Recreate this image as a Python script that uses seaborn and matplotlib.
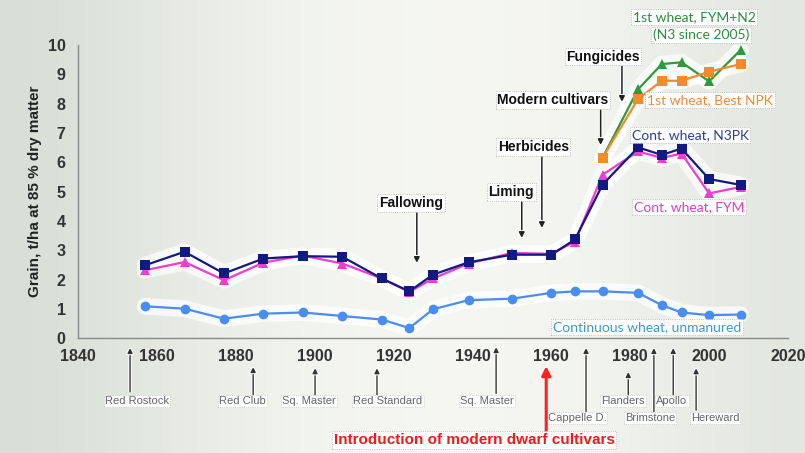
import numpy as np
import pandas as pd
import matplotlib
matplotlib.use("Agg")
import matplotlib.pyplot as plt
import matplotlib.patheffects as pe
from matplotlib.colors import LinearSegmentedColormap
import seaborn as sns

# ---- data: Broadbalk grain yields (t/ha at 85% dry matter), period means ----
years = [1857, 1867, 1877, 1887, 1897, 1907, 1917, 1924, 1930, 1939,
         1950, 1960, 1966, 1973, 1982, 1988, 1993, 2000, 2008]
cont_n3pk = [2.49, 2.95, 2.21, 2.72, 2.80, 2.78, 2.04, 1.60, 2.17, 2.59,
             2.85, 2.85, 3.37, 5.24, 6.51, 6.25, 6.47, 5.43, 5.23]
cont_fym = [2.32, 2.60, 1.98, 2.58, 2.82, 2.55, 2.04, 1.58, 2.04, 2.55,
            2.91, 2.88, 3.30, 5.58, 6.37, 6.15, 6.30, 4.94, 5.16]
cont_unmanured = [1.09, 1.01, 0.67, 0.84, 0.88, 0.76, 0.64, 0.35, 0.99, 1.30,
                  1.35, 1.55, 1.60, 1.60, 1.55, 1.13, 0.88, 0.79, 0.81]

years_first = [1973, 1982, 1988, 1993, 2000, 2008]
first_best_npk = [6.16, 8.16, 8.78, 8.78, 9.09, 9.35]
first_fym_n2 = [6.16, 8.49, 9.35, 9.41, 8.76, 9.83]

# management changes (label, label x, label y, arrow x, arrow top, arrow tip)
events = [
    ("Fallowing", 1924.4, 4.61, 1925.9, 4.30, 2.57),
    ("Liming", 1949.8, 4.99, 1952.5, 4.68, 3.42),
    ("Herbicides", 1955.4, 6.52, 1957.6, 6.20, 3.76),
    ("Modern cultivars", 1960.4, 8.12, 1972.5, 7.80, 6.59),
    ("Fungicides", 1973.1, 9.60, 1977.9, 9.28, 8.06),
]

# cultivars grown (label, label x, label y, arrow x, arrow tail, arrow tip)
cultivars = [
    ("Red Rostock", 1855.0, -2.14, 1853.2, -1.83, -0.33),
    ("Red Club", 1881.6, -2.14, 1884.4, -1.93, -0.98),
    ("Sq. Master", 1898.6, -2.14, 1900.1, -1.93, -1.02),
    ("Red Standard", 1918.6, -2.14, 1915.8, -1.93, -1.02),
    ("Sq. Master", 1943.7, -2.14, 1946.0, -1.88, -0.30),
    ("Cappelle D.", 1966.5, -2.72, 1968.8, -2.50, -0.33),
    ("Flanders", 1978.2, -2.14, 1979.5, -1.93, -1.15),
    ("Brimstone", 1985.0, -2.72, 1986.0, -2.50, -0.33),
    ("Apollo", 1990.6, -2.14, 1990.9, -1.93, -0.33),
    ("Hereward", 2001.5, -2.72, 1996.7, -2.45, -1.02),
]

NARROW = ["Liberation Sans Narrow", "Liberation Sans", "DejaVu Sans"]
SERIES_FONT = ["Lato", "DejaVu Sans"]

sns.set_theme(style="white")
plt.rcParams["font.family"] = NARROW

fig = plt.figure(figsize=(8.05, 4.53), dpi=100)

# soft pale backdrop
bg = fig.add_axes([0, 0, 1, 1], zorder=-10)
bg.axis("off")
ramp = np.linspace(0, 1, 400)
shade = np.clip(1.0 - 0.9 * np.exp(-((ramp - 0.0) / 0.28) ** 2)
                - 0.6 * np.exp(-((ramp - 1.0) / 0.22) ** 2), 0, 1)
grad = np.tile(shade, (50, 1))
cmap = LinearSegmentedColormap.from_list("bgc", ["#d6ddd3", "#f6f7f3"])
bg.imshow(grad, aspect="auto", cmap=cmap, vmin=0, vmax=1, extent=[0, 1, 0, 1])
bg.set_xlim(0, 1)
bg.set_ylim(0, 1)

ax = fig.add_axes([78 / 805, 1 - 338.3 / 453, (788 - 78) / 805, (338.3 - 45) / 453])
ax.set_facecolor("none")

df_main = pd.DataFrame({"year": years, "n3pk": cont_n3pk, "fym": cont_fym,
                        "unman": cont_unmanured})
df_first = pd.DataFrame({"year": years_first, "npk": first_best_npk,
                         "fymn2": first_fym_n2})

series = [
    (df_main, "unman", "#4a8df0", "o", 7),
    (df_main, "fym", "#f03cd0", "^", 6.5),
    (df_main, "n3pk", "#101a80", "s", 7),
    (df_first, "fymn2", "#2e9a3a", "^", 7),
    (df_first, "npk", "#f58a2a", "s", 7),
]

# white halo under the lines
for d, col, c, m, ms in series:
    sns.lineplot(data=d, x="year", y=col, ax=ax, color="white", lw=12,
                 alpha=0.75, solid_capstyle="round", solid_joinstyle="round",
                 zorder=2, estimator=None)
for d, col, c, m, ms in series:
    sns.lineplot(data=d, x="year", y=col, ax=ax, color=c, lw=1.6, marker=m,
                 markersize=ms, markeredgewidth=0, zorder=3, estimator=None)

ax.set_xlim(1840, 2020)
ax.set_ylim(0, 10)
ax.set_xticks(np.arange(1840, 2021, 20))
ax.set_xticks(np.arange(1840, 2021, 5), minor=True)
ax.set_yticks(np.arange(0, 11, 1))
ax.set_xlabel("")
ax.set_ylabel("Grain, t/ha at 85 % dry matter", fontsize=11, fontweight="bold",
              color="#222222", labelpad=4)
for s in ["top", "right"]:
    ax.spines[s].set_visible(False)
for s in ["left", "bottom"]:
    ax.spines[s].set_color("#8a8a8a")
    ax.spines[s].set_linewidth(1.0)
ax.tick_params(axis="x", which="major", direction="inout", length=7, width=1,
               color="#8a8a8a", pad=4, labelsize=11.5, labelcolor="#333333")
ax.tick_params(axis="x", which="minor", direction="inout", length=5, width=0.8,
               color="#8a8a8a")
ax.tick_params(axis="y", which="major", direction="in", length=4, width=1,
               color="#8a8a8a", pad=9, labelsize=11.5, labelcolor="#333333")
for lab in ax.get_xticklabels() + ax.get_yticklabels():
    lab.set_fontweight("bold")

halo = [pe.withStroke(linewidth=2.5, foreground="white")]
box = dict(boxstyle="square,pad=0.12", fc="white", ec="#b0b0b0", lw=0.6, ls=":")

# management events
for lab, tx, ty, axx, ay0, ay1 in events:
    ax.text(tx, ty, lab, ha="center", va="center", fontsize=10,
            fontweight="bold", color="#111111", bbox=box, zorder=6)
    ax.annotate("", xy=(axx, ay1), xytext=(axx, ay0),
                arrowprops=dict(arrowstyle="-|>", color="#222222", lw=1.1,
                                mutation_scale=8, shrinkA=0, shrinkB=0,
                                path_effects=halo),
                zorder=5)

# series labels
ax.text(1996.2, 10.96, "1st wheat, FYM+N2", ha="center", va="center",
        fontsize=10, color="#2e8b3e", family=SERIES_FONT, bbox=box,
        clip_on=False, zorder=6)
ax.text(1998.0, 10.34, "(N3 since 2005)", ha="center", va="center",
        fontsize=10, color="#2e8b3e", family=SERIES_FONT, bbox=box,
        clip_on=False, zorder=6)
ax.text(2000.2, 8.12, "1st wheat, Best NPK", ha="center", va="center",
        fontsize=10, color="#f08a3c", family=SERIES_FONT, bbox=box, zorder=6)
ax.text(1995.2, 6.93, "Cont. wheat, N3PK", ha="center", va="center",
        fontsize=10, color="#2a3f8f", family=SERIES_FONT, bbox=box, zorder=6)
ax.text(1994.9, 4.48, "Cont. wheat, FYM", ha="center", va="center",
        fontsize=10, color="#e040c0", family=SERIES_FONT, bbox=box, zorder=6)
ax.text(1984.3, 0.39, "Continuous wheat, unmanured", ha="center", va="center",
        fontsize=10, color="#3b9ad0", family=SERIES_FONT, bbox=box, zorder=6)

# cultivar timeline below the axis
cbox = dict(boxstyle="square,pad=0.1", fc="white", ec="#b8b8b8", lw=0.5, ls=":")
for lab, tx, ty, axx, ay0, ay1 in cultivars:
    ax.annotate("", xy=(axx, ay1), xytext=(axx, ay0), annotation_clip=False,
                arrowprops=dict(arrowstyle="-|>", color="#333333", lw=1.0,
                                mutation_scale=7, shrinkA=0, shrinkB=0,
                                path_effects=halo))
    ax.text(tx, ty, lab, ha="center", va="center", fontsize=8,
            color="#666666", bbox=cbox, clip_on=False)

ax.annotate("", xy=(1958.7, -0.95), xytext=(1958.7, -3.25),
            annotation_clip=False,
            arrowprops=dict(arrowstyle="-|>", color="#ff2020", lw=2.2,
                            mutation_scale=13, shrinkA=0, shrinkB=0))
ax.text(1940.4, -3.47, "Introduction of modern dwarf cultivars", ha="center",
        va="center", fontsize=11, fontweight="bold", color="#ee1c1c",
        bbox=dict(boxstyle="square,pad=0.12", fc="white", ec="#b0b0b0",
                  lw=0.6, ls=":"), clip_on=False)

fig.savefig("out.png", dpi=100)
